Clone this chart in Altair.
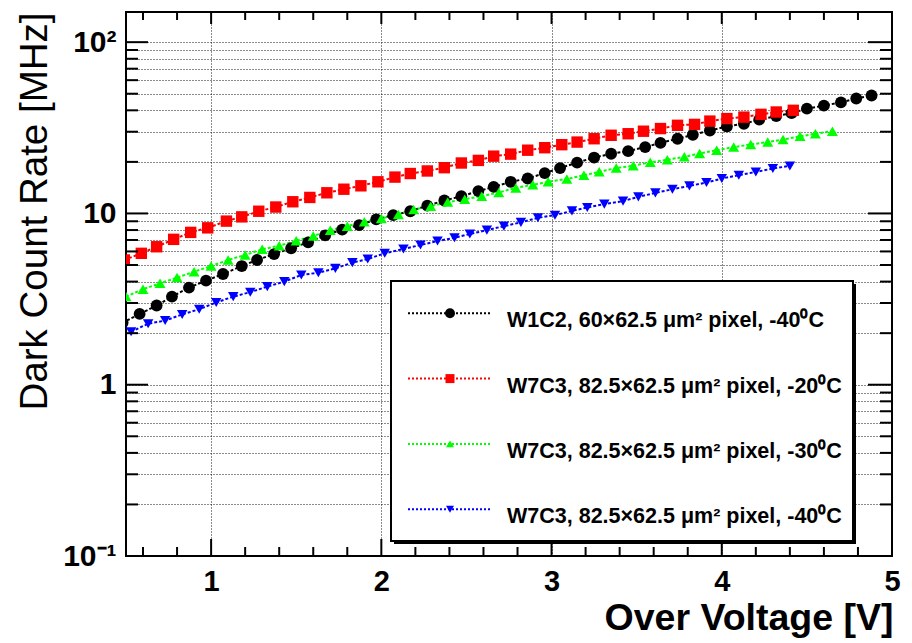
import altair as alt
import pandas as pd

# ---------------- data ----------------
series_names = [
    "W1C2, 60×62.5  μm² pixel, -40⁰C",
    "W7C3, 82.5×62.5  μm² pixel, -20⁰C",
    "W7C3, 82.5×62.5  μm² pixel, -30⁰C",
    "W7C3, 82.5×62.5  μm² pixel, -40⁰C",
]
colors = ["#000000", "#ff0000", "#00ff00", "#0000ff"]
shapes = ["circle", "square", "triangle-up", "triangle-down"]

black_x = [0.48, 0.58, 0.68, 0.77, 0.87, 0.97, 1.07, 1.18, 1.27, 1.37, 1.47, 1.57,
           1.67, 1.77, 1.87, 1.97, 2.07, 2.17, 2.27, 2.37, 2.47, 2.57, 2.66, 2.76,
           2.86, 2.96, 3.05, 3.15, 3.25, 3.35, 3.45, 3.55, 3.64, 3.74, 3.83, 3.93,
           4.03, 4.13, 4.22, 4.32, 4.41, 4.50, 4.60, 4.70, 4.79, 4.88]
black_y = [2.30, 2.59, 2.90, 3.27, 3.69, 4.05, 4.43, 4.93, 5.35, 5.79, 6.26, 6.78,
           7.45, 8.05, 8.55, 9.23, 9.77, 10.3, 11.1, 11.9, 12.6, 13.5, 14.3, 15.3,
           16.0, 17.2, 18.4, 19.8, 21.2, 22.3, 23.1, 24.4, 25.8, 27.3, 28.8, 30.5,
           32.2, 33.4, 35.3, 37.0, 38.5, 40.9, 42.6, 44.5, 46.9, 48.8]

red_x = [0.49, 0.59, 0.68, 0.78, 0.88, 0.98, 1.09, 1.18, 1.28, 1.38, 1.48, 1.58,
         1.68, 1.78, 1.88, 1.98, 2.08, 2.17, 2.27, 2.37, 2.47, 2.57, 2.66, 2.76,
         2.86, 2.96, 3.06, 3.15, 3.25, 3.35, 3.45, 3.54, 3.64, 3.74, 3.84, 3.93,
         4.03, 4.13, 4.23, 4.32, 4.42]
red_y = [5.35, 5.85, 6.39, 7.06, 7.75, 8.24, 9.02, 9.55, 10.3, 10.9, 11.7, 12.4,
         13.2, 13.85, 14.5, 15.3, 16.3, 17.1, 17.7, 18.5, 19.7, 20.4, 21.6, 22.2,
         23.4, 24.2, 25.2, 26.1, 27.3, 28.6, 29.2, 30.2, 31.3, 32.7, 33.1, 34.6,
         35.8, 36.5, 37.9, 39.1, 40.0]

green_x = [0.50, 0.60, 0.70, 0.80, 0.90, 1.00, 1.10, 1.20, 1.30, 1.40, 1.50, 1.60,
           1.70, 1.80, 1.90, 2.00, 2.10, 2.19, 2.29, 2.39, 2.49, 2.59, 2.69, 2.79,
           2.89, 2.98, 3.09, 3.19, 3.28, 3.38, 3.48, 3.58, 3.68, 3.78, 3.87, 3.97,
           4.07, 4.17, 4.27, 4.36, 4.46, 4.55, 4.65]
green_y = [3.27, 3.61, 3.91, 4.22, 4.57, 4.93, 5.35, 5.72, 6.17, 6.48, 6.92, 7.38,
           7.99, 8.43, 8.93, 9.35, 9.87, 10.55, 11.03, 11.65, 12.11, 12.61, 13.26, 14.1,
           14.7, 15.3, 15.9, 16.7, 17.5, 18.4, 19.0, 19.9, 20.6, 21.4, 22.4, 23.4,
           24.4, 25.3, 26.1, 27.0, 28.2, 29.2, 30.2]

blue_x = [0.53, 0.63, 0.73, 0.83, 0.93, 1.03, 1.13, 1.23, 1.33, 1.43, 1.53, 1.63,
          1.73, 1.83, 1.92, 2.02, 2.13, 2.23, 2.33, 2.43, 2.52, 2.62, 2.72, 2.82,
          2.92, 3.02, 3.12, 3.21, 3.31, 3.42, 3.51, 3.61, 3.71, 3.81, 3.91, 4.00,
          4.10, 4.20, 4.30, 4.40]
blue_y = [2.04, 2.27, 2.37, 2.57, 2.76, 3.02, 3.27, 3.47, 3.74, 4.00, 4.37, 4.51,
          4.78, 5.16, 5.42, 5.85, 6.20, 6.54, 6.90, 7.21, 7.58, 7.99, 8.43, 8.87,
          9.43, 9.77, 10.35, 10.84, 11.33, 11.80, 12.50, 13.18, 13.85, 14.48, 15.15, 15.99,
          16.72, 17.47, 18.29, 18.94]

x_labels = [1, 2, 3, 4, 5]
x_major = [1, 2, 3, 4]
x_minor = [0.6, 0.8, 1.2, 1.4, 1.6, 1.8, 2.2, 2.4, 2.6, 2.8, 3.2, 3.4, 3.6, 3.8,
           4.2, 4.4, 4.6, 4.8]
y_major = [0.1, 1, 10, 100]
y_minor = [0.2, 0.3, 0.4, 0.5, 0.6, 0.7, 0.8, 0.9, 2, 3, 4, 5, 6, 7, 8, 9,
           20, 30, 40, 50, 60, 70, 80, 90]

# ---------------- build tables ----------------
rows = []
for name, xs, ys in zip(series_names, [black_x, red_x, green_x, blue_x],
                        [black_y, red_y, green_y, blue_y]):
    for a, b in zip(xs, ys):
        rows.append({"series": name, "V": a, "R": b})
df = pd.DataFrame(rows)

W, H = 766, 544
FONT = "Liberation Sans"

xscale = alt.Scale(domain=[0.5, 5], nice=False, zero=False)
yscale = alt.Scale(type="log", domain=[0.1, 150], nice=False)
cscale = alt.Scale(domain=series_names, range=colors)
sscale = alt.Scale(domain=series_names, range=shapes)
zscale = alt.Scale(domain=series_names, range=[140, 110, 130, 130])

GRID = dict(grid=True, gridDash=[1, 2], gridColor="#000000", gridOpacity=0.9, gridWidth=1)

xaxis = alt.Axis(
    values=x_labels, **GRID, ticks=False, domain=False, format="d", labelFont=FONT,
    labelFontSize=29, labelFontWeight="bold", labelColor="black", labelPadding=11,
    labelFlush=False,
    title="Over Voltage [V]", titleFont=FONT, titleFontSize=37.5, titleFontWeight="bold",
    titleColor="black", titleAlign="right", titleBaseline="alphabetic",
    titleX=W + 1, titleY=73, titleAnchor="end",
)
yaxis = alt.Axis(
    values=sorted(y_major + y_minor), **GRID, ticks=False, domain=False, labelFont=FONT,
    labelFontSize=30, labelFontWeight="bold", labelColor="black", labelPadding=10,
    labelOverlap=False, labelFlush=False, labelBaseline="middle",
    labelExpr="datum.value == 100 ? '10²' : datum.value == 10 ? '10' : datum.value == 1 ? '1' : datum.value == 0.1 ? '10⁻¹' : ''",
    title="Dark Count Rate [MHz]", titleFont=FONT, titleFontSize=38.5, titleFontWeight="normal",
    titleColor="black", titleAngle=270, titleAlign="right", titleBaseline="alphabetic",
    titleX=-80, titleY=0,
)

lines = alt.Chart(df).mark_line(strokeDash=[3, 2], strokeWidth=2, clip=True).encode(
    x=alt.X("V:Q", scale=xscale, axis=xaxis),
    y=alt.Y("R:Q", scale=yscale, axis=yaxis),
    color=alt.Color("series:N", scale=cscale, legend=None),
    detail="series:N",
)
points = alt.Chart(df).mark_point(filled=True, opacity=1, clip=True).encode(
    x=alt.X("V:Q", scale=xscale),
    y=alt.Y("R:Q", scale=yscale),
    color=alt.Color("series:N", scale=cscale, legend=None),
    shape=alt.Shape("series:N", scale=sscale, legend=None),
    size=alt.Size("series:N", scale=zscale, legend=None),
)

# inside ticks (ROOT style)
def ytick(vals, x0, x1):
    return alt.Chart(pd.DataFrame({"R": vals})).mark_rule(color="black", strokeWidth=2).encode(
        y=alt.Y("R:Q", scale=yscale), x=alt.value(x0), x2=alt.value(x1))

def xtick(vals, y0, y1):
    return alt.Chart(pd.DataFrame({"V": vals})).mark_rule(color="black", strokeWidth=2).encode(
        x=alt.X("V:Q", scale=xscale), y=alt.value(y0), y2=alt.value(y1))

ticks = [
    ytick(y_major, 0, 22), ytick(y_minor, 0, 12),
    ytick(y_major, W - 24, W), ytick(y_minor, W - 12, W),
    xtick(x_major, H - 17, H), xtick(x_minor, H - 9, H),
    xtick(x_major, 0, 12), xtick(x_minor, 0, 8),
]

# legend box
one = pd.DataFrame({"k": [0]})
shadow = alt.Chart(one).mark_rect(color="black").encode(
    x=alt.value(268), x2=alt.value(730), y=alt.value(272), y2=alt.value(532))
box = alt.Chart(one).mark_rect(fill="white", stroke="black", strokeWidth=2).encode(
    x=alt.value(265), x2=alt.value(727), y=alt.value(269), y2=alt.value(529))
legend_layers = [shadow, box]
marker_sizes = [100, 81, 64, 64]
for i, name in enumerate(series_names):
    ly = 301.3 + i * 65.3
    legend_layers.append(alt.Chart(one).mark_rule(
        color=colors[i], strokeDash=[2, 2], strokeWidth=2).encode(
        x=alt.value(282), x2=alt.value(364), y=alt.value(ly)))
    legend_layers.append(alt.Chart(one).mark_point(
        color=colors[i], filled=True, opacity=1, shape=shapes[i], size=marker_sizes[i]).encode(
        x=alt.value(324), y=alt.value(ly)))
    legend_layers.append(alt.Chart(one).mark_text(
        align="left", baseline="alphabetic", font=FONT, fontSize=21.5,
        fontWeight="bold", color="black").encode(
        x=alt.value(381), y=alt.value(ly + 14), text=alt.value(name)))

chart = alt.layer(lines, points, *ticks, *legend_layers).properties(
    width=W, height=H,
    padding={"left": 126, "top": 12, "right": 20, "bottom": 87},
    autosize=alt.AutoSizeParams(type="none"),
    background="white",
).configure_view(stroke="black", strokeWidth=2)

chart.save("out.html", embed_options={"renderer": "svg", "actions": False})
